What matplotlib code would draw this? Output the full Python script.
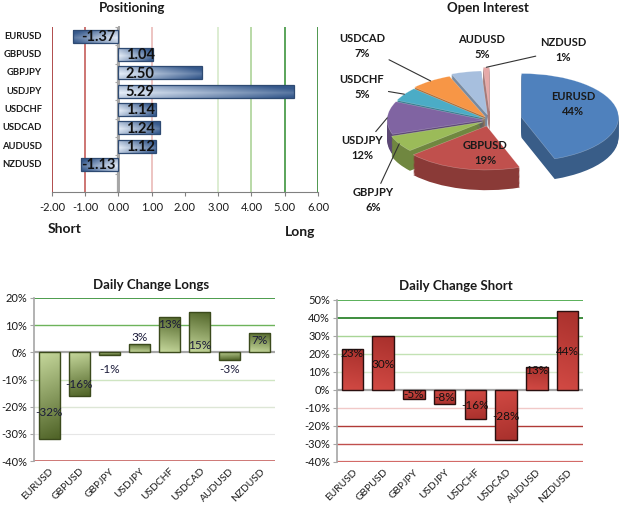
import numpy as np
import matplotlib
matplotlib.use("Agg")
import matplotlib.pyplot as plt
from matplotlib.ticker import FixedLocator, FuncFormatter, NullFormatter
from matplotlib.colors import to_rgb
from matplotlib.transforms import blended_transform_factory

plt.rcParams['font.family'] = ['Lato', 'DejaVu Sans']

# ---------------- data ----------------
pairs = ['EURUSD', 'GBPUSD', 'GBPJPY', 'USDJPY', 'USDCHF', 'USDCAD', 'AUDUSD', 'NZDUSD']
positioning = [-1.37, 1.04, 2.50, 5.29, 1.14, 1.24, 1.12, -1.13]
pos_ticks = [-2, -1, 0, 1, 2, 3, 4, 5, 6]

open_interest = [44, 19, 6, 12, 5, 7, 5, 1]

longs_change = [-32, -16, -1, 3, 13, 15, -3, 7]
longs_ticks = [-40, -30, -20, -10, 0, 10, 20]

short_change = [23, 30, -5, -8, -16, -28, 13, 44]
short_ticks = [-40, -30, -20, -10, 0, 10, 20, 30, 40, 50]

# ---------------- layout helpers ----------------
W, H = 625, 505
fig = plt.figure(figsize=(W / 100, H / 100), dpi=100)
fig.patch.set_facecolor('white')


def add_ax(l, t, r, b):
    return fig.add_axes([l / W, 1 - b / H, (r - l) / W, (b - t) / H])


def fpx(x, y):
    return (x / W, 1 - y / H)


def grad_fill(ax, bar, c_base, c_tip, horizontal, z):
    x0, y0 = bar.get_x(), bar.get_y()
    w, h = bar.get_width(), bar.get_height()
    n = 64
    cb, ct = np.array(to_rgb(c_base)), np.array(to_rgb(c_tip))
    if horizontal:
        t = np.linspace(0, 1, n)
        if w < 0:
            t = t[::-1]
        v = np.linspace(0, 1, 16)[:, None]
        shade = 0.3 * np.abs(v - 0.6) * 2  # darker at edges
        tt = np.clip(t[None, :] * 0.8 + shade, 0, 1)
        arr = (1 - tt)[..., None] * cb + tt[..., None] * ct
        ext = [min(x0, x0 + w), max(x0, x0 + w), min(y0, y0 + h), max(y0, y0 + h)]
    else:
        t = np.linspace(0, 1, n)
        if h < 0:
            t = t[::-1]
        u = np.linspace(0, 1, 16)[None, :]
        tt = np.clip(t[:, None] * 0.9 + 0.1 * u, 0, 1)
        arr = (1 - tt)[..., None] * cb + tt[..., None] * ct
        ext = [x0, x0 + w, min(y0, y0 + h), max(y0, y0 + h)]
    im = ax.imshow(arr, extent=ext, origin='lower', aspect='auto',
                   interpolation='bilinear', zorder=z)
    im.set_clip_path(bar)


# ================= Positioning =================
ax1 = add_ax(52, 27, 318, 192)
ypos = np.arange(len(pairs))
bars = ax1.barh(ypos, positioning, height=0.7, facecolor='none',
                edgecolor='#2E4A72', linewidth=0.9, zorder=4)
for b in bars:
    grad_fill(ax1, b, '#E8F0FA', '#36598C', True, 3)

grid_cols = {-2: '#9B1B1B', -1: '#C0504D', 1: '#E8B4B2', 3: '#D3E8C6',
             4: '#A6D08F', 5: '#2E8B2E', 6: '#1E7A1E'}
for xv, c in grid_cols.items():
    ax1.axvline(xv, color=c, lw=1.1, zorder=1)
ax1.axvline(0, color='#A6A6A6', lw=1.6, zorder=2)

for yv, v in zip(ypos, positioning):
    if v >= 0:
        ax1.text(0.22, yv + 0.05, f'{v:.2f}', ha='left', va='center',
                 fontsize=10.5, fontweight='bold', color='#111111', zorder=6)
    else:
        ax1.text(-0.08, yv + 0.05, f'{v:.2f}', ha='right', va='center',
                 fontsize=10.5, fontweight='bold', color='#111111', zorder=6)

ax1.set_xlim(-2, 6)
ax1.set_ylim(len(pairs) + 0.5, -0.5)
ax1.set_xticks(pos_ticks)
ax1.xaxis.set_major_formatter(FuncFormatter(lambda v, p: f'{v:.2f}'))
ax1.yaxis.set_major_locator(FixedLocator(np.arange(-0.5, len(pairs) + 1, 1)))
ax1.yaxis.set_major_formatter(NullFormatter())
ax1.tick_params(axis='y', left=False, right=True, labelleft=False,
                direction='in', length=3, color='#A6A6A6')
ax1.tick_params(axis='x', length=3, color='#808080', labelsize=8, pad=4,
                labelcolor='#1a1a1a')
ylab_tr = blended_transform_factory(ax1.transAxes, ax1.transData)
for yv, name in zip(ypos, pairs):
    ax1.text(-10 / 266, yv, name, transform=ylab_tr, ha='right', va='center',
             fontsize=6.8, fontweight='bold', color='#1a1a1a', clip_on=False)
for s in ['top', 'left']:
    ax1.spines[s].set_visible(False)
ax1.spines['right'].set_position(('data', 0))
ax1.spines['right'].set_color('#A6A6A6')
ax1.spines['right'].set_linewidth(1.4)
ax1.spines['bottom'].set_color('#808080')
ax1.set_facecolor('none')

fig.text(*fpx(132, 8), 'Positioning', ha='center', va='center',
         fontsize=9.5, fontweight='bold', color='#1a1a1a')
fig.text(*fpx(65, 229), 'Short', ha='center', va='center',
         fontsize=10, fontweight='bold', color='#1a1a1a')
fig.text(*fpx(300, 232), 'Long', ha='center', va='center',
         fontsize=10, fontweight='bold', color='#1a1a1a')

# ================= Open Interest (pseudo 3D pie) =================
axp = add_ax(370, 40, 625, 215)
pie_cols = ['#4F81BD', '#C0504D', '#9BBB59', '#8064A2', '#4BACC6',
            '#F79646', '#A7BFDE', '#E6A9A8']
explode = [0.33, 0.14, 0.08, 0.06, 0.06, 0.08, 0.12, 0.2]
depth_steps = np.linspace(0.46, 0.0, 18)
for i, d in enumerate(depth_steps):
    if d > 0:
        cols = [tuple(np.array(to_rgb(c)) * 0.72) for c in pie_cols]
        axp.pie(open_interest, colors=cols, startangle=90, counterclock=False,
                explode=explode, center=(0, -d), radius=1.0,
                wedgeprops=dict(linewidth=0))
    else:
        wedges, _ = axp.pie(open_interest, colors=pie_cols, startangle=90,
                            counterclock=False, explode=explode, center=(0, 0),
                            radius=1.0,
                            wedgeprops=dict(linewidth=0.4, edgecolor='#ffffff55'))
axp.set_aspect('auto')
axp.set_xlim(-1.237, 1.392)
axp.set_ylim(-2.16, 1.82)
axp.axis('off')

fig.text(*fpx(488, 8), 'Open Interest', ha='center', va='center',
         fontsize=9.5, fontweight='bold', color='#1a1a1a')

label_px = [(573, 104), (485, 153), (373, 200), (362, 148), (362, 87),
            (362, 46), (482, 47), (563, 50)]
leader = [False, False, True, True, True, True, False, True]
tot = sum(open_interest)
for i, w in enumerate(wedges):
    txt = f'{pairs[i]}\n{open_interest[i] / tot * 100:.0f}%'
    if leader[i]:
        th = np.deg2rad((w.theta1 + w.theta2) / 2)
        cx, cy = w.center
        pt = (cx + w.r * np.cos(th), cy + w.r * np.sin(th))
        axp.annotate(txt, xy=pt, xycoords='data', xytext=fpx(*label_px[i]),
                     textcoords='figure fraction', ha='center', va='center',
                     fontsize=8, fontweight='bold', color='#1a1a1a',
                     linespacing=1.35, annotation_clip=False,
                     arrowprops=dict(arrowstyle='-', color='#333333', lw=0.8,
                                     shrinkA=1, shrinkB=0))
    else:
        fig.text(*fpx(*label_px[i]), txt, ha='center', va='center',
                 fontsize=8, fontweight='bold', color='#1a1a1a',
                 linespacing=1.35)


# ================= Daily change bars =================
def change_panel(ax, vals, ticks, grid, base_c, tip_c, edge_c, label_y, title,
                 title_xy, lab_col):
    xs = np.arange(len(vals))
    bs = ax.bar(xs, vals, width=0.7, facecolor='none', edgecolor=edge_c,
                linewidth=1.0, zorder=4)
    for b in bs:
        grad_fill(ax, b, base_c, tip_c, False, 3)
    for yv, c, lw in grid:
        ax.axhline(yv, color=c, lw=lw, zorder=1)
    ax.axhline(0, color='#A6A6A6', lw=1.6, zorder=2)
    for x, v, ly in zip(xs, vals, label_y):
        ax.text(x, ly, f'{v}%', ha='center', va='center', fontsize=8.5,
                color=lab_col, zorder=6)
    ax.set_xlim(-0.5, len(vals) - 0.5)
    ax.set_ylim(ticks[0], ticks[-1])
    ax.set_yticks(ticks)
    ax.set_yticklabels([f'{t}%' for t in ticks], fontsize=8, color='#1a1a1a')
    ax.set_xticks(xs)
    ax.set_xticklabels(pairs, rotation=45, ha='right', rotation_mode='anchor',
                       fontsize=7.4, color='#1a1a1a')
    ax.tick_params(axis='x', length=0, pad=4)
    ax.tick_params(axis='y', length=3, color='#A6A6A6', pad=2)
    for s in ['top', 'right', 'bottom']:
        ax.spines[s].set_visible(False)
    ax.spines['left'].set_color('#A6A6A6')
    ax.spines['left'].set_linewidth(1.2)
    ax.set_facecolor('none')
    fig.text(*fpx(*title_xy), title, ha='center', va='center', fontsize=9.5,
             fontweight='bold', color='#1a1a1a')


axl = add_ax(34, 298, 275, 461)
longs_grid = [(20, '#2E8B2E', 1.2), (10, '#6DB35B', 1.0), (-10, '#CFE5C2', 1.0),
              (-20, '#DDE6D6', 1.0), (-30, '#E6E6E6', 0.8), (-40, '#C0504D', 1.8)]
longs_label_y = [-22.3, -11.7, -6.5, 5.5, 10.2, 2.5, -6.5, 4.3]
change_panel(axl, longs_change, longs_ticks, longs_grid, '#C6D89C', '#4E6226',
             '#3B4A1C', longs_label_y, 'Daily Change Longs', (151, 285),
             '#1b1b3a')

axs = add_ax(337, 300, 583, 462)
short_grid = [(50, '#3DA33D', 1.2), (40, '#1E7A1E', 1.2), (30, '#A8D596', 1.0),
              (20, '#C3E2B4', 1.0), (10, '#D8EBCF', 1.0), (-10, '#F1C9C8', 1.0),
              (-20, '#B03A36', 1.0), (-30, '#C0504D', 1.0), (-40, '#D36A67', 1.6)]
short_label_y = [20.3, 14.4, -2.7, -4.4, -8.4, -15, 10.7, 21.2]
change_panel(axs, short_change, short_ticks, short_grid, '#D24A44', '#A8302C',
             '#2a0f0f', short_label_y, 'Daily Change Short', (456, 286),
             '#111111')

fig.savefig('out.png', dpi=100, facecolor='white')
